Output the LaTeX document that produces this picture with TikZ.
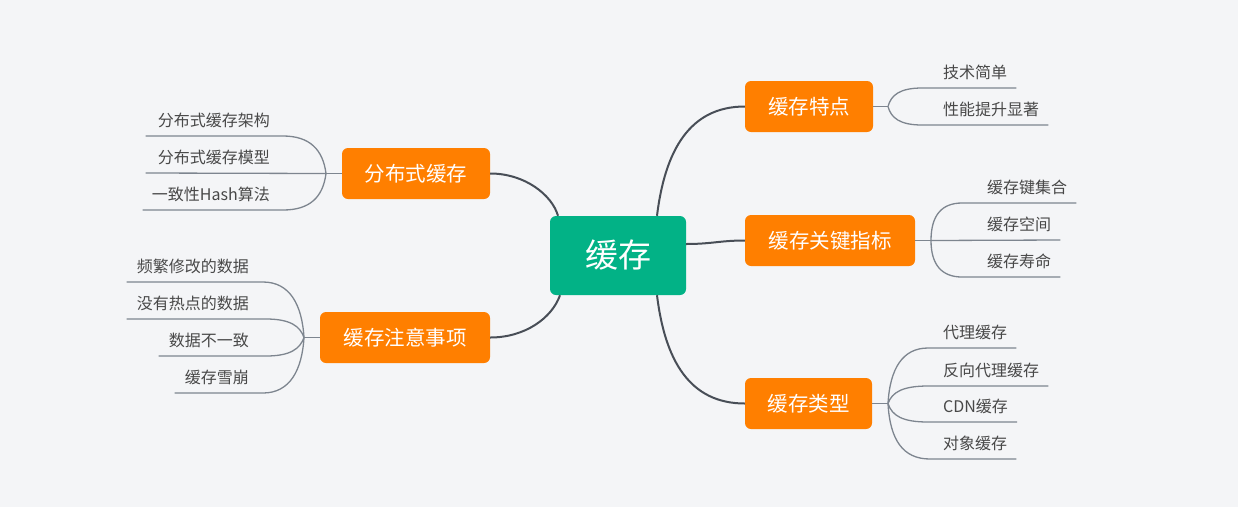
\documentclass[tikz,border=0pt]{standalone}
\usepackage{fontspec}
\setmainfont{Noto Sans CJK SC}
\usetikzlibrary{calc}
\definecolor{bgC}{RGB}{244,245,247}
\definecolor{rootC}{RGB}{2,178,134}
\definecolor{orangeC}{RGB}{255,127,0}
\definecolor{lineC}{RGB}{72,78,87}
\definecolor{leafL}{RGB}{125,133,143}
\definecolor{leafT}{RGB}{72,72,72}
\tikzset{
  rootbox/.style={rounded corners=6pt, fill=rootC, text=white, font=\fontsize{33}{38}\selectfont, minimum width=136pt, minimum height=79pt, inner sep=0pt},
  mainbox/.style={rounded corners=6pt, fill=orangeC, text=white, font=\fontsize{20.5}{24}\selectfont, minimum height=51pt, inner sep=0pt},
  leaf/.style={text=leafT, font=\fontsize{16}{19}\selectfont, inner sep=0pt},
  mainline/.style={draw=lineC, line width=2pt},
  leafline/.style={draw=leafL, line width=1.3pt},
}
\begin{document}
\begin{tikzpicture}[x=1pt,y=-1pt]
\fill[bgC] (0,0) rectangle (1238,507);
\useasboundingbox (0,0) rectangle (1238,507);

% main nodes
\node[rootbox] (root) at (618,255.5) {缓存};
\node[mainbox, minimum width=128pt] (b1) at (809,106.5) {缓存特点};
\node[mainbox, minimum width=170pt] (b2) at (830,240.5) {缓存关键指标};
\node[mainbox, minimum width=127pt] (b3) at (808.5,403.5) {缓存类型};
\node[mainbox, minimum width=148pt] (b4) at (416,173.5) {分布式缓存};
\node[mainbox, minimum width=170pt] (b5) at (405,337.5) {缓存注意事项};

% main connectors
\draw[mainline] ([xshift=39pt]root.north) .. controls (665,150) and (690,106.5) .. (b1.west);
\draw[mainline] ([yshift=11.5pt]root.east) .. controls (712,244) and (720,240.5) .. (b2.west);
\draw[mainline] ([xshift=39pt]root.south) .. controls (665,361) and (690,403.5) .. (b3.west);
\draw[mainline] ([xshift=-60pt]root.north) .. controls (552,195) and (525,173.5) .. (b4.east);
\draw[mainline] ([xshift=-58pt]root.south) .. controls (552,318) and (525,337.5) .. (b5.east);

% fork points
\coordinate (f1) at (888,106.5);
\coordinate (f2) at (931,240.5);
\coordinate (f3) at (888,403.5);
\coordinate (f4) at (326,173.5);
\coordinate (f5) at (304,337.5);
\draw[leafline] (b1.east) -- (f1);
\draw[leafline] (b2.east) -- (f2);
\draw[leafline] (b3.east) -- (f3);
\draw[leafline] (b4.west) -- (f4);
\draw[leafline] (b5.west) -- (f5);

% leaves of b1
\node[leaf, anchor=base west] (l11) at (943,78) {技术简单};
\node[leaf, anchor=base west] (l12) at (943,115) {性能提升显著};
\draw[leafline] (f1) .. controls (891,95) and (900,88) .. (922,88) -- ($(l11.base east)+(9,10)$);
\draw[leafline] (f1) .. controls (891,118) and (900,125) .. (922,125) -- ($(l12.base east)+(9,10)$);

% leaves of b2
\node[leaf, anchor=base west] (l21) at (987,193) {缓存键集合};
\node[leaf, anchor=base west] (l22) at (987,230) {缓存空间};
\node[leaf, anchor=base west] (l23) at (987,267) {缓存寿命};
\draw[leafline] (f2) .. controls (931,215) and (942,203) .. (962,203) -- ($(l21.base east)+(9,10)$);
\draw[leafline] (f2) -- ($(l22.base east)+(9,10)$);
\draw[leafline] (f2) .. controls (931,265) and (942,277) .. (962,277) -- ($(l23.base east)+(9,10)$);

% leaves of b3
\node[leaf, anchor=base west] (l31) at (943,338) {代理缓存};
\node[leaf, anchor=base west] (l32) at (943,376) {反向代理缓存};
\node[leaf, anchor=base west] (l33) at (943,412) {CDN缓存};
\node[leaf, anchor=base west] (l34) at (943,449) {对象缓存};
\draw[leafline] (f3) .. controls (890,368) and (903,348) .. (928,348) -- ($(l31.base east)+(9,10)$);
\draw[leafline] (f3) .. controls (892,392) and (903,386) .. (928,386) -- ($(l32.base east)+(9,10)$);
\draw[leafline] (f3) .. controls (892,416) and (903,422) .. (928,422) -- ($(l33.base east)+(9,10)$);
\draw[leafline] (f3) .. controls (890,440) and (903,459) .. (930,459) -- ($(l34.base east)+(9,10)$);

% leaves of b4
\node[leaf, anchor=base east] (l41) at (270,126) {分布式缓存架构};
\node[leaf, anchor=base east] (l42) at (270,163) {分布式缓存模型};
\node[leaf, anchor=base east] (l43) at (270,200) {一致性Hash算法};
\draw[leafline] (f4) .. controls (323,150) and (310,136) .. (283,136) -- ($(l41.base west)+(-12,10)$);
\draw[leafline] (f4) -- ($(l42.base west)+(-12,10)$);
\draw[leafline] (f4) .. controls (323,197) and (310,210) .. (283,210) -- ($(l43.base west)+(-9,10)$);

% leaves of b5
\node[leaf, anchor=base east] (l51) at (249,272) {频繁修改的数据};
\node[leaf, anchor=base east] (l52) at (249,309) {没有热点的数据};
\node[leaf, anchor=base east] (l53) at (249,346) {数据不一致};
\node[leaf, anchor=base east] (l54) at (249,383) {缓存雪崩};
\draw[leafline] (f5) .. controls (302,305) and (290,282) .. (263,282) -- ($(l51.base west)+(-10,10)$);
\draw[leafline] (f5) .. controls (300,326) and (290,319) .. (266,319) -- ($(l52.base west)+(-10,10)$);
\draw[leafline] (f5) .. controls (300,349) and (290,356) .. (266,356) -- ($(l53.base west)+(-10,10)$);
\draw[leafline] (f5) .. controls (302,370) and (290,393) .. (263,393) -- ($(l54.base west)+(-10,10)$);
\end{tikzpicture}
\end{document}
